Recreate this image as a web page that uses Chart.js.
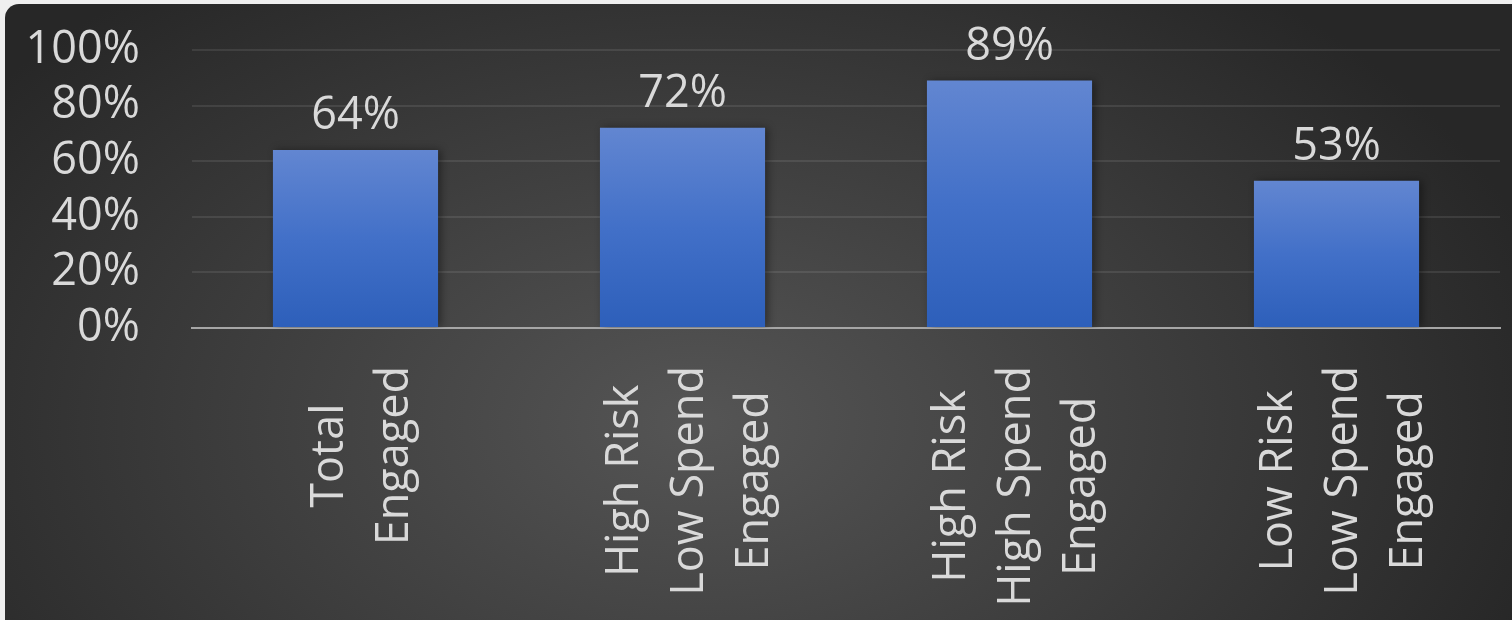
<!DOCTYPE html>
<html>
<head>
<meta charset="utf-8">
<script src="https://cdn.jsdelivr.net/npm/chart.js@4.4.1/dist/chart.umd.min.js"></script>
<style>
  html, body { margin: 0; padding: 0; background: #efefef; overflow: hidden; }
  #panel {
    position: absolute; left: 5px; top: 4px; width: 1507px; height: 616px;
    border-top-left-radius: 14px; overflow: hidden;
    background: radial-gradient(ellipse 880px 560px at 46% 68%, #555555 0%, #3c3c3c 55%, #272727 100%);
  }
</style>
</head>
<body>
<div id="panel"><canvas id="myChart" width="1507" height="616"></canvas></div>
<script>
// chart data
const categories = [
  ['Total', 'Engaged'],
  ['High Risk', 'Low Spend', 'Engaged'],
  ['High Risk', 'High Spend', 'Engaged'],
  ['Low Risk', 'Low Spend', 'Engaged']
];
const engagedShare = [0.64, 0.72, 0.89, 0.53];
const yTickLabels = ['0%', '20%', '40%', '60%', '80%', '100%'];

const textColor = '#d9d9d9';
const fontFamily = '"Open Sans", "Noto Sans", sans-serif';
const fontSize = 45;

// per bar vertical gradient (light top, darker bottom)
function barGradient(context) {
  const chart = context.chart;
  const yScale = chart.scales.y;
  if (!chart.chartArea || !yScale) return '#4472c4';
  const top = yScale.getPixelForValue(context.raw);
  const bottom = yScale.getPixelForValue(0);
  if (!isFinite(top) || top === bottom) return '#4472c4';
  const g = chart.ctx.createLinearGradient(0, top, 0, bottom);
  g.addColorStop(0, '#6286d1');
  g.addColorStop(0.5, '#4270c8');
  g.addColorStop(1, '#2d5fba');
  return g;
}

// soft shadow around bars
const barShadow = {
  id: 'barShadow',
  beforeDatasetsDraw(chart) {
    const ctx = chart.ctx;
    ctx.save();
    ctx.shadowColor = 'rgba(0,0,0,0.4)';
    ctx.shadowBlur = 8;
    ctx.shadowOffsetX = 3;
    ctx.shadowOffsetY = 0;
  },
  afterDatasetsDraw(chart) {
    chart.ctx.restore();
  }
};

// value labels above the bars
const valueLabels = {
  id: 'valueLabels',
  afterDatasetsDraw(chart) {
    const ctx = chart.ctx;
    const meta = chart.getDatasetMeta(0);
    ctx.save();
    ctx.font = fontSize + 'px ' + fontFamily;
    ctx.fillStyle = textColor;
    ctx.textAlign = 'center';
    ctx.textBaseline = 'alphabetic';
    meta.data.forEach((bar, i) => {
      ctx.fillText(Math.round(engagedShare[i] * 100) + '%', bar.x, bar.y - 21);
    });
    ctx.restore();
  }
};

// rotated, centred multi-line category labels
const categoryLabels = {
  id: 'categoryLabels',
  afterDraw(chart) {
    const ctx = chart.ctx;
    const xScale = chart.scales.x;
    const lineGap = 65;
    const topY = chart.chartArea.bottom + 38;
    ctx.save();
    ctx.font = fontSize + 'px ' + fontFamily;
    ctx.fillStyle = textColor;
    ctx.textAlign = 'center';
    ctx.textBaseline = 'alphabetic';
    categories.forEach((lines, i) => {
      const cx = xScale.getPixelForTick(i);
      const maxW = Math.max(...lines.map(t => ctx.measureText(t).width));
      const cy = topY + maxW / 2;
      lines.forEach((t, j) => {
        const bx = cx + 20 + (j - (lines.length - 1) / 2) * lineGap;
        ctx.save();
        ctx.translate(bx, cy);
        ctx.rotate(-Math.PI / 2);
        ctx.fillText(t, 0, 0);
        ctx.restore();
      });
    });
    ctx.restore();
  }
};

const myChart = new Chart(document.getElementById('myChart'), {
  type: 'bar',
  data: {
    labels: categories.map(c => c.join(' ')),
    datasets: [{
      data: engagedShare,
      backgroundColor: barGradient,
      borderWidth: 0,
      barPercentage: 1,
      categoryPercentage: 0.505
    }]
  },
  options: {
    responsive: false,
    animation: false,
    devicePixelRatio: 1,
    layout: { padding: { top: 46, right: 12, left: 0, bottom: 0 } },
    plugins: {
      legend: { display: false },
      tooltip: { enabled: false }
    },
    scales: {
      x: {
        z: 1,
        grid: { display: false },
        border: { display: true, color: '#a6a6a6', width: 2 },
        ticks: { display: false },
        afterFit: (scale) => { scale.height = 292; }
      },
      y: {
        min: 0,
        max: 1,
        ticks: {
          stepSize: 0.2,
          autoSkip: false,
          padding: 0,
          color: textColor,
          font: { family: fontFamily, size: fontSize },
          callback: (value, index) => yTickLabels[index]
        },
        grid: {
          drawTicks: true,
          tickLength: 52,
          tickColor: 'rgba(0,0,0,0)',
          lineWidth: 2,
          color: (c) => c.tick && c.tick.value === 0 ? 'rgba(0,0,0,0)' : 'rgba(255,255,255,0.09)'
        },
        border: { display: false },
        afterFit: (scale) => { scale.width = 187; }
      }
    }
  },
  plugins: [barShadow, valueLabels, categoryLabels]
});
</script>
</body>
</html>
